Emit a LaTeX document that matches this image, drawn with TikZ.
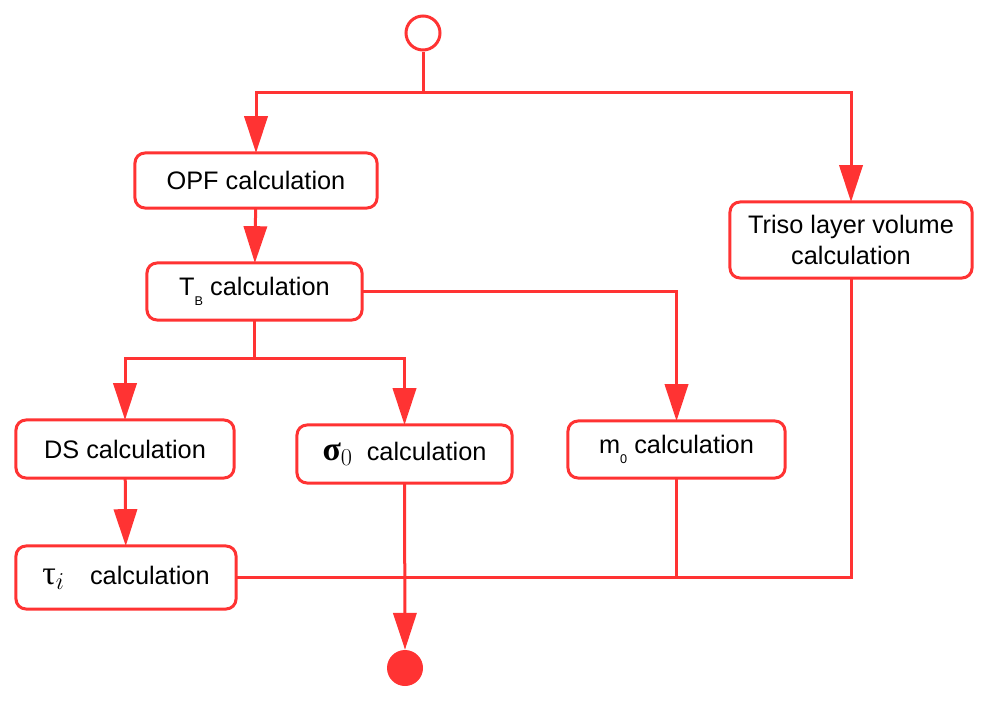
\documentclass[tikz,border=0pt]{standalone}
\usepackage{fontspec}
\setmainfont{Liberation Sans}
\newfontfamily\greekfont{Liberation Serif}
\usetikzlibrary{arrows.meta}
\definecolor{flowred}{HTML}{FF3333}
\newcommand*{\SubLow}[1]{\raisebox{-0.4em}{\fontsize{9}{10}\selectfont #1}}
\newcommand*{\BigGreek}[1]{{\fontsize{24}{24}\selectfont #1}}

\begin{document}
\begin{tikzpicture}
	[x=0.025cm,y=-0.025cm,
	flow/.style={line width=0.075cm, draw=flowred},
	arrow/.style={flow,-{Triangle[length=0.92cm,width=0.58cm]}},
	calcbox/.style={flow, rounded corners=0.25cm, fill=white, align=center, outer sep=0pt,
		font=\fontsize{18}{21.6}\selectfont, inner sep=0pt}];

	\useasboundingbox (0,0) rectangle (983,701);

	%Nodes
	\node[flow, circle, minimum size=0.85cm, inner sep=0pt] (start) at (423,33) {};
	\node[calcbox, minimum width=6.05cm, minimum height=1.375cm] (opf) at (256,180.5) {OPF calculation};
	\node[calcbox, minimum width=6.05cm, minimum height=1.9cm] (triso) at (851,240) {Triso layer volume\\calculation};
	\node[calcbox, minimum width=5.375cm, minimum height=1.425cm] (tb) at (254.5,291.5) {T\SubLow{B} calculation};
	\node[calcbox, minimum width=5.45cm, minimum height=1.45cm] (ds) at (125,449) {DS calculation};
	\node[calcbox, minimum width=5.375cm, minimum height=1.45cm] (sigma) at (404.5,454) {\BigGreek{{\greekfont\bfseries σ}$_0$}\ \ calculation};
	\node[calcbox, minimum width=5.425cm, minimum height=1.425cm] (m0) at (676.5,449.5) {m\SubLow{0} calculation};
	\node[calcbox, minimum width=5.5cm, minimum height=1.575cm] (tau) at (126,577.5) {\BigGreek{{\greekfont τ}$_i$}\quad calculation};
	\node[circle, fill=flowred, minimum size=0.9cm, inner sep=0pt] (stop) at (405,668) {};

	%Coordinates
	\coordinate (split) at (423,93);
	\coordinate (branch) at (254.5,358);
	\coordinate (join) at (404.5,577.5);

	%Lines
	\draw[flow] (start) -- (split);
	\draw[arrow] (split) -| (opf.north);
	\draw[arrow] (split) -| (triso.north);
	\draw[arrow] (opf) -- (tb);
	\draw[arrow] (tb.east) -| (m0.north);
	\draw[flow] (tb.south) -- (branch);
	\draw[arrow] (branch) -| (ds.north);
	\draw[arrow] (branch) -| (sigma.north);
	\draw[arrow] (ds) -- (tau);
	\draw[flow] (tau.east) -- (join);
	\draw[flow] (triso.south) |- (join);
	\draw[flow] (m0.south) -- (m0.south |- join);
	\draw[arrow] (sigma.south) -- (stop.north);
\end{tikzpicture}
\end{document}
